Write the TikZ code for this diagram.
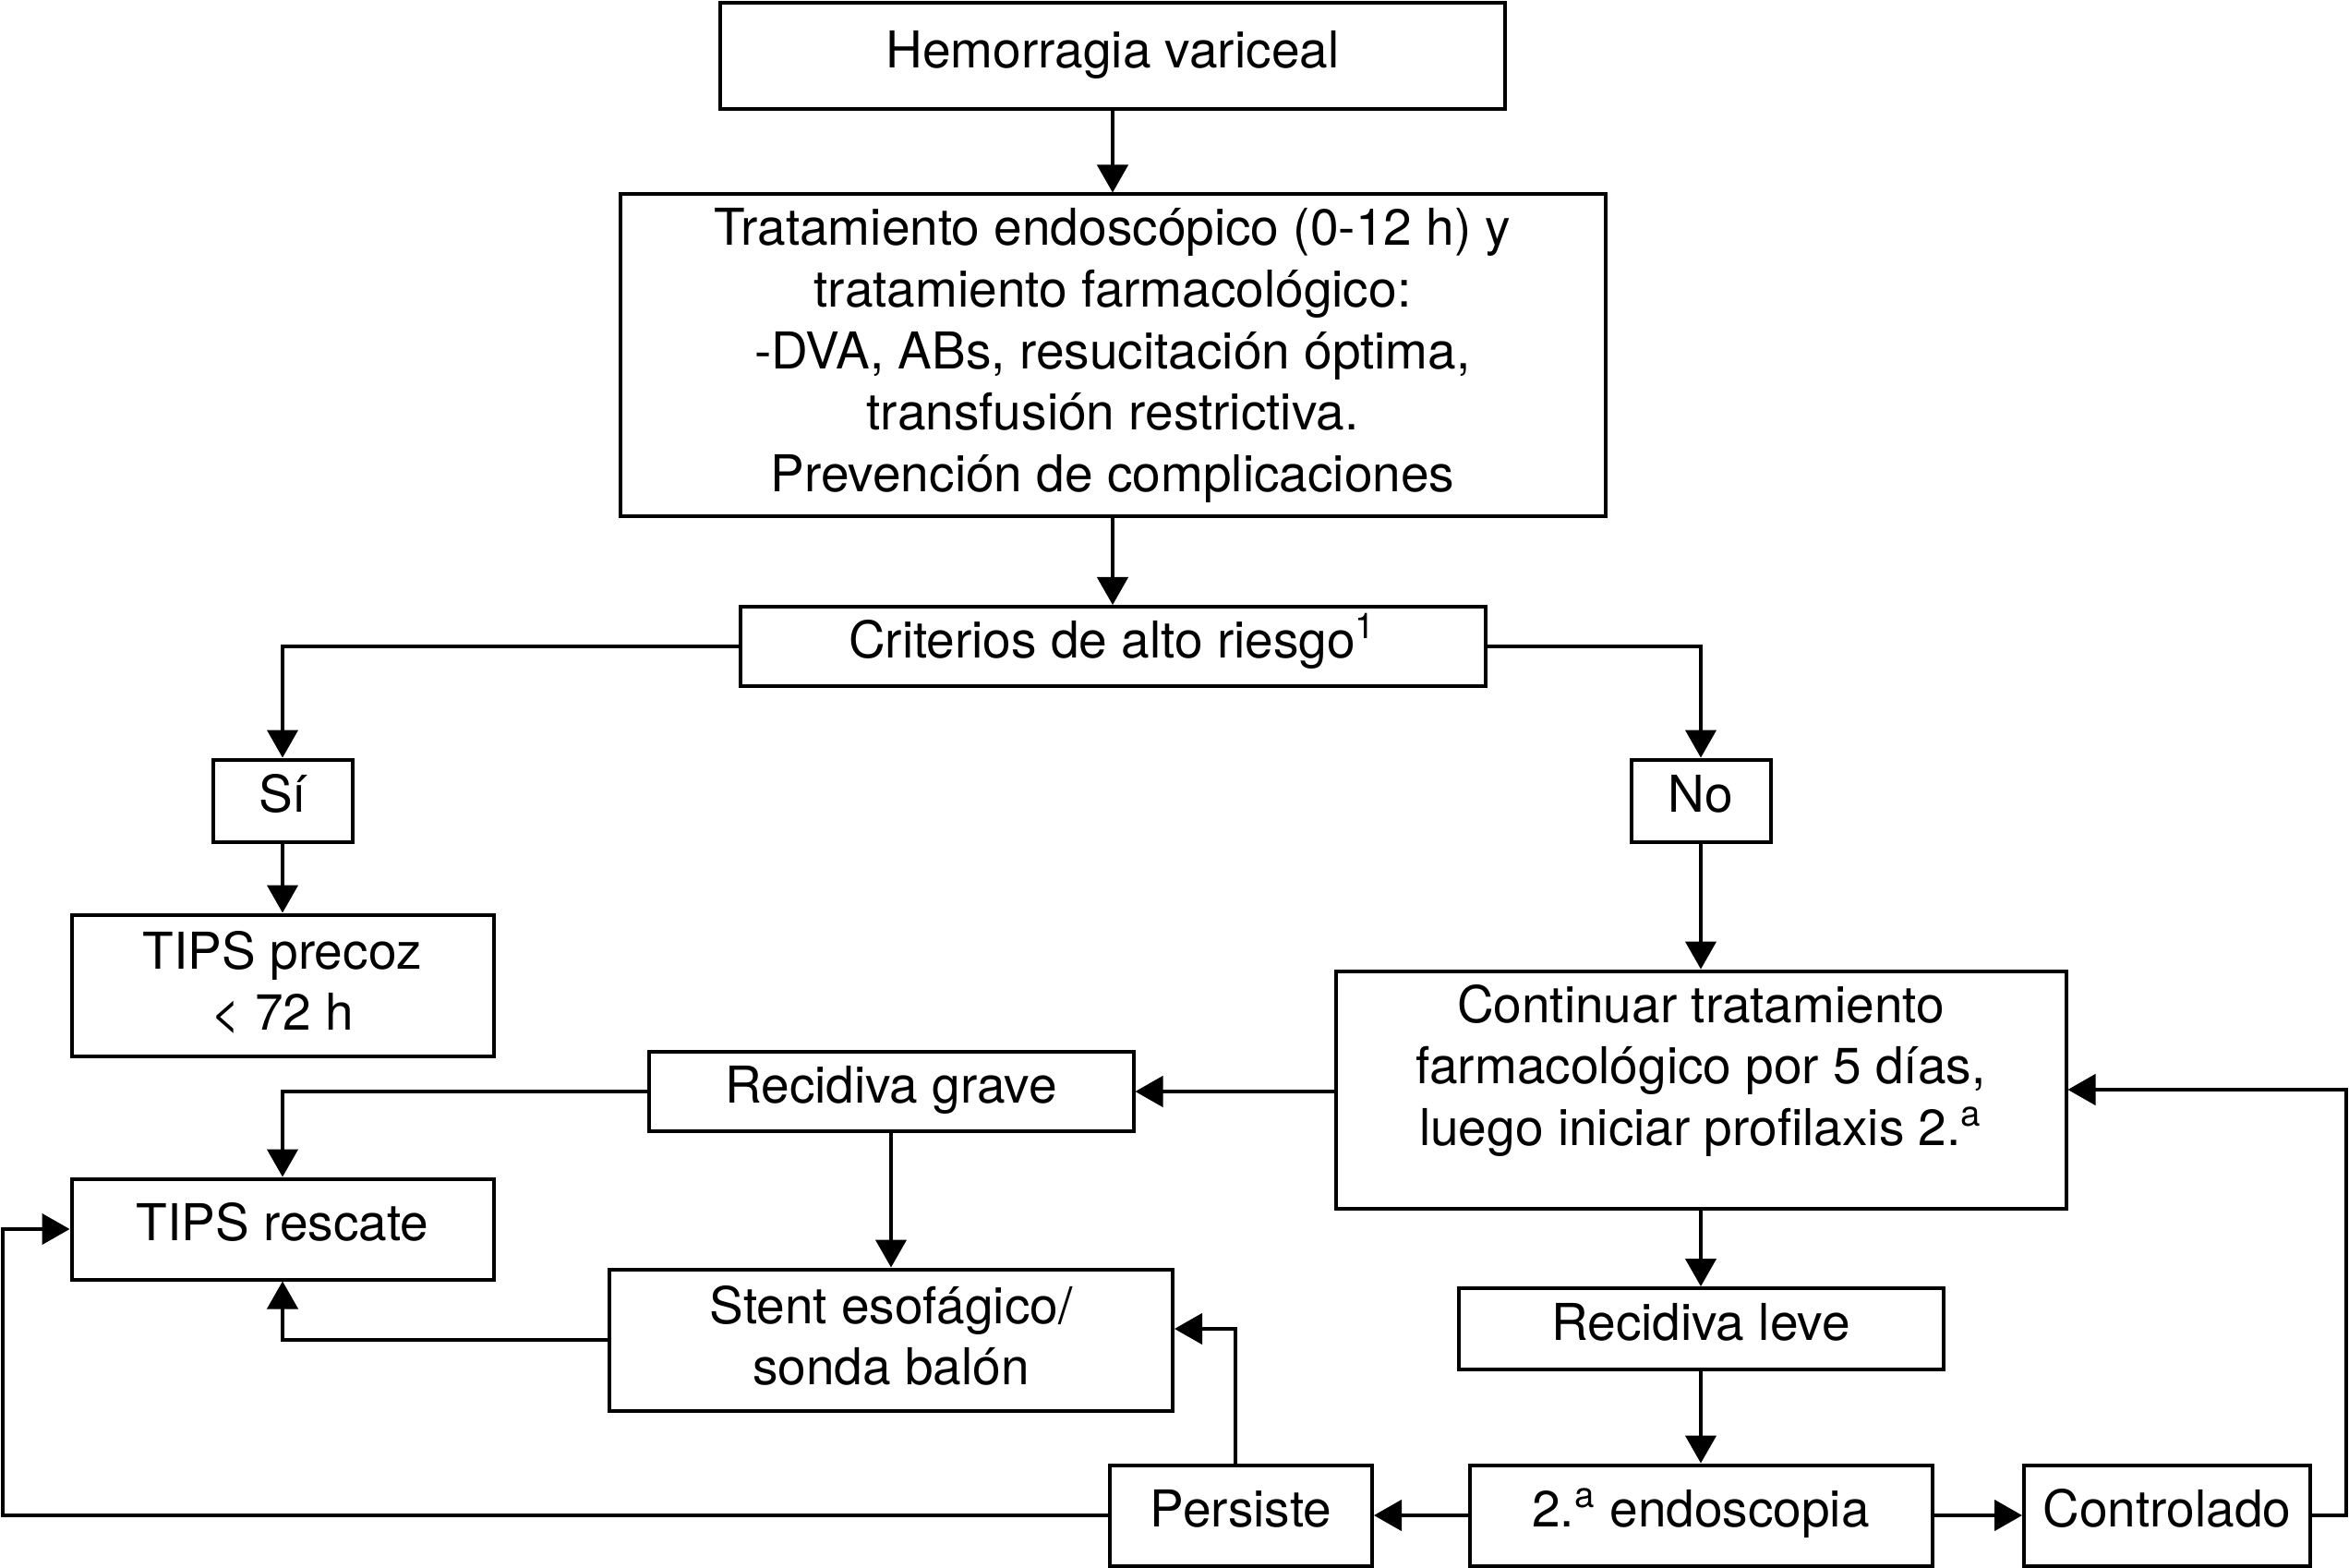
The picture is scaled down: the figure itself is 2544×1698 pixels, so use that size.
\documentclass[tikz,border=0pt]{standalone}
\usepackage{fontspec}
\setmainfont{TeX Gyre Heros}
\usetikzlibrary{arrows.meta}

\tikzset{
  caja/.style={draw, line width=1.2pt, align=center, inner sep=0pt,
    font=\fontsize{16.5}{20}\selectfont},
  una/.style={text height=12pt, text depth=4.5pt},
  flecha/.style={-{Triangle[length=9pt,width=10pt]}, line width=1pt}
}

\begin{document}
\begin{tikzpicture}[x=0.3pt,y=0.3pt,yscale=-1,xscale=1]
\useasboundingbox (0,0) rectangle (2544,1698);
% cajas
\node [caja, una, minimum width=255pt, minimum height=34.5pt] (hem) at (1205,61) {Hemorragia variceal};
\node [caja, minimum width=320.1pt, minimum height=104.7pt] (trat) at (1205,385) {Tratamiento endoscópico (0-12 h) y\\tratamiento farmacológico:\\-DVA, ABs, resucitación óptima,\\transfusión restrictiva.\\Prevención de complicaciones};
\node [caja, una, minimum width=242.1pt, minimum height=25.8pt] (crit) at (1205,700) {Criterios de alto riesgo\textsuperscript{1}};
\node [caja, una, minimum width=45.3pt, minimum height=26.7pt] (si) at (306,867) {Sí};
\node [caja, una, minimum width=45.3pt, minimum height=26.7pt] (no) at (1842,867) {No};
\node [caja, minimum width=137.1pt, minimum height=45.9pt] (precoz) at (306,1067) {TIPS precoz\\< 72 h\\[-17pt]\mbox{}};
\node [caja, minimum width=237.3pt, minimum height=77.1pt] (cont) at (1842,1180) {Continuar tratamiento\\farmacológico por 5 días,\\luego iniciar profilaxis 2.\textsuperscript{a}\\[-4pt]\mbox{}};
\node [caja, una, minimum width=157.5pt, minimum height=25.8pt] (grave) at (965,1182) {Recidiva grave};
\node [caja, una, minimum width=137.1pt, minimum height=32.7pt] (rescate) at (306,1331) {TIPS rescate};
\node [caja, minimum width=183pt, minimum height=45.9pt] (stent) at (965,1451) {Stent esofágico/\\sonda balón\\[-17pt]\mbox{}};
\node [caja, una, minimum width=157.5pt, minimum height=26.4pt] (leve) at (1842,1439) {Recidiva leve};
\node [caja, una, minimum width=150.3pt, minimum height=32.7pt] (endo) at (1842,1641) {2.\textsuperscript{a} endoscopia};
\node [caja, una, minimum width=93pt, minimum height=32.7pt] (ctrl) at (2347,1641) {Controlado};
\node [caja, una, minimum width=85.2pt, minimum height=32.7pt] (pers) at (1344,1641) {Persiste};
\coordinate (dcha) at (2541,1641);
\coordinate (izq) at (3,1641);
% flechas
\draw [flecha] (hem) -- (trat);
\draw [flecha] (trat) -- (crit);
\draw [flecha] (crit.west) -| (si);
\draw [flecha] (crit.east) -| (no);
\draw [flecha] (si) -- (precoz);
\draw [flecha] (no) -- (cont);
\draw [flecha] (cont.west |- grave) -- (grave.east);
\draw [flecha] (grave.west) -| (rescate.north);
\draw [flecha] (grave) -- (stent);
\draw [flecha] (stent.west) -| (rescate.south);
\draw [flecha] (cont) -- (leve);
\draw [flecha] (leve) -- (endo);
\draw [flecha] (endo) -- (pers);
\draw [flecha] (endo) -- (ctrl);
\draw [flecha] (ctrl.east) -- (dcha) |- (cont.east);
\draw [flecha] ([xshift=-1.8pt]pers.north) |- ([yshift=-3.6pt]stent.east);
\draw [flecha] (pers.west) -- (izq) |- (rescate.west);
\end{tikzpicture}
\end{document}
